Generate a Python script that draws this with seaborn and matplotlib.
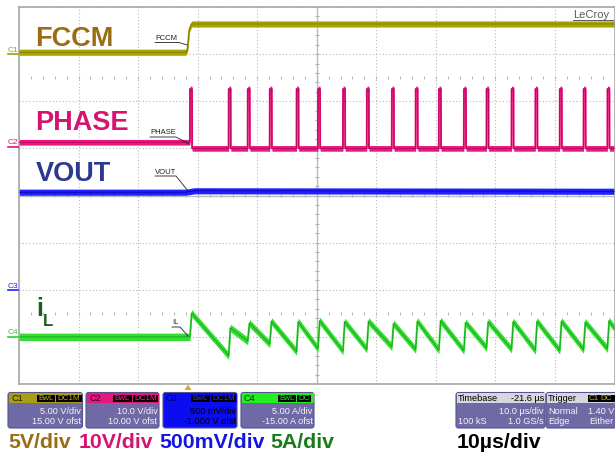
import numpy as np
import pandas as pd
import matplotlib
matplotlib.use("Agg")
import matplotlib.pyplot as plt
import seaborn as sns
from matplotlib.patches import FancyBboxPatch, Rectangle, Polygon

plt.rcParams['font.family'] = ['Liberation Sans', 'DejaVu Sans']

# ---------------- data (time in µs, 10 µs/div, 100 µs window) ----------------
fccm_t = [0.0, 28.0, 28.3, 28.6, 29.0, 100.0]
fccm_v = [0.2, 0.2, 0.5, 2.6, 3.2, 3.2]            # V

phase_pulse_t = [28.7, 35.2, 38.4, 42.1, 46.6, 50.2, 54.4, 58.4, 62.6,
                 66.6, 70.5, 74.7, 78.5, 82.7, 86.7, 90.8, 94.8, 98.8]
phase_pre_v = 1.3      # V, before FCCM
phase_low_v = 0.0      # V
phase_high_v = 12.6    # V
phase_width = 0.35     # µs

vout_t = [0.0, 28.0, 29.5, 100.0]
vout_v = [1.035, 1.035, 1.05, 1.045]               # V

il_pre = 0.0                                       # A
il_trough = [0.0, -2.0, -0.45, -0.75, -1.55, -1.25, -1.5, -1.3, -1.05,
             -1.35, -1.4, -1.45, -1.15, -1.3, -1.45, -1.45, -1.35, -1.25]
il_peak = [2.5, 0.95, 1.45, 1.65, 1.6, 1.7, 1.6, 1.65, 1.4,
           1.65, 1.7, 1.5, 1.6, 1.6, 1.65, 1.65, 1.55, 1.7]
il_end = 0.9
il_rise = 0.3          # µs

# channel: (units/div, offset)  -> screen div = (v + offset)/scale + 4
ch_scale = {'C1': 5.0, 'C2': 10.0, 'C3': 0.5, 'C4': 5.0}
ch_offset = {'C1': 15.0, 'C2': 10.0, 'C3': -1.0, 'C4': -15.0}

# ---------------- build waveforms ----------------
ph_t = [0.0, phase_pulse_t[0] - 0.02]
ph_v = [phase_pre_v, phase_pre_v]
for p in phase_pulse_t:
    ph_t += [p, p + 0.02, p + phase_width, p + phase_width + 0.02]
    ph_v += [ph_v[-1], phase_high_v, phase_high_v, phase_low_v]
ph_t.append(100.0)
ph_v.append(phase_low_v)

il_t = [0.0]
il_v = [il_pre]
for p, tr, pk in zip(phase_pulse_t, il_trough, il_peak):
    il_t += [p, p + il_rise]
    il_v += [tr, pk]
il_t.append(100.0)
il_v.append(il_end)

rows = []
for ch, tt, vv in [('C1', fccm_t, fccm_v), ('C2', ph_t, ph_v),
                   ('C3', vout_t, vout_v), ('C4', il_t, il_v)]:
    for i, (a, b) in enumerate(zip(tt, vv)):
        rows.append({'ch': ch, 'i': i, 't': a,
                     'div': (b + ch_offset[ch]) / ch_scale[ch] + 4})
df = pd.DataFrame(rows)

W, H = 615, 455
fig = plt.figure(figsize=(W / 100, H / 100), dpi=100)
fig.patch.set_facecolor('white')

ax = fig.add_axes([19 / W, 71 / H, 595.5 / W, 377 / H])
ax.set_xlim(0, 100)
ax.set_ylim(0, 8)
ax.set_xticks(np.arange(0, 101, 10))
ax.set_yticks(np.arange(0, 9, 1))
ax.tick_params(length=0, labelbottom=False, labelleft=False)
ax.grid(True, color='#b8b8b8', linestyle=(0, (1, 2)), lw=0.8, zorder=0)
for s in ax.spines.values():
    s.set_color('#a8a8a8')
    s.set_linewidth(1.2)
# center graticule with minor ticks
ax.axvline(50, color='#c0c0c0', lw=1.0, zorder=0.5)
ax.axhline(4, color='#c0c0c0', lw=1.0, zorder=0.5)
yk = np.arange(0, 8.01, 0.2)
ax.hlines(yk, 49.65, 50.35, color='#b0b0b0', lw=0.8, zorder=0.5)
xk = np.arange(0, 100.01, 2)
for yr in (1.5, 4.0, 6.5):
    ax.vlines(xk, yr - 0.03, yr + 0.03, color='#b8b8b8', lw=0.8, zorder=0.5)

styles = {
    'C1': ('#a8a400', '#777500', 0.065),
    'C2': ('#e8187e', '#b0005a', 0.06),
    'C3': ('#2020ff', '#0000a8', 0.065),
    'C4': ('#34dc34', '#119a11', 0.08),
}
for ch in ['C1', 'C2', 'C3', 'C4']:
    d = df[df.ch == ch].sort_values('i')
    light, dark, h = styles[ch]
    ax.fill_between(d['t'], d['div'] - h, d['div'] + h, color=light, lw=0, zorder=2)
    sns.lineplot(data=d, x='t', y='div', ax=ax, sort=False, estimator=None,
                 color=light, lw=1.4, zorder=2.5)
    sns.lineplot(data=d, x='t', y='div', ax=ax, sort=False, estimator=None,
                 color=dark, lw=0.5, zorder=3)
ax.set_xlabel('')
ax.set_ylabel('')

# ---------------- overlay (pixel coordinates) ----------------
ov = fig.add_axes([0, 0, 1, 1], zorder=5)
ov.set_xlim(0, W)
ov.set_ylim(H, 0)
ov.axis('off')
ov.patch.set_alpha(0)

# big trace labels
ov.text(35, 46, 'FCCM', fontsize=19.5, fontweight='bold', color='#9b6d12', va='baseline')
ov.text(35, 130, 'PHASE', fontsize=19.5, fontweight='bold', color='#d4146e', va='baseline')
ov.text(36, 181, 'VOUT', fontsize=19.5, fontweight='bold', color='#2b3990', va='baseline')
ov.text(36, 316, 'i', fontsize=18, fontweight='bold', color='#1a5c1a', va='baseline')
ov.text(43, 326, 'L', fontsize=12, fontweight='bold', color='#1a5c1a', va='baseline')

# small trace annotations with leader lines
def small_label(txt, x, base, ux1, ex, ey):
    ov.text(x, base, txt, fontsize=5.5, color='#202020', va='baseline')
    ov.plot([x, ux1, ex], [base + 2.5, base + 2.5, ey], color='#202020', lw=0.6)

small_label('FCCM', 155, 40, 179, 187, 45)
small_label('PHASE', 150, 134.5, 176, 189, 144)
small_label('VOUT', 155, 173.5, 176, 188, 191)
small_label('IL', 172, 324.5, 180, 188, 336)

# LeCroy
ov.text(573, 17.5, 'LeCroy', fontsize=8, color='#5a5a5a', va='baseline')
ov.plot([573, 613], [19.5, 19.5], color='#5a5a5a', lw=0.7)

# channel ground markers
for name, gy, col in [('C1', 54, '#a0a000'), ('C2', 147, '#e0107a'),
                      ('C3', 290, '#2020ff'), ('C4', 337, '#30d030')]:
    ov.text(7.5, gy - 2.5, name, fontsize=6, color=col, va='baseline', rotation=0)
    ov.plot([8, 18], [gy, gy], color=col, lw=1.2)

# trigger marker
ov.add_patch(Polygon([[184.5, 390], [191.5, 390], [188, 384.5]], closed=True,
                     color='#c8b41e', lw=0))

# ---------------- channel boxes ----------------
body = '#6f6aa6'
edge = '#57538c'

def box(x0, x1, head_col, full=False):
    y0, y1 = 392.5, 428
    ov.add_patch(FancyBboxPatch((x0, y0), x1 - x0, y1 - y0,
                                boxstyle='round,pad=0,rounding_size=2.5',
                                fc=head_col if full else body, ec=edge, lw=0.8))
    ov.add_patch(Rectangle((x0 + 0.5, y0 + 0.5), x1 - x0 - 1, 9.5, fc=head_col, lw=0))

def tag(x0, x1, txt, col):
    ov.add_patch(Rectangle((x0, 394.5), x1 - x0, 7, fc='black', lw=0))
    ov.text((x0 + x1) / 2, 398.3, txt, fontsize=5.8, color=col, ha='center', va='center')

fs = 6.6
chans = [
    ('C1', 8, 82.5, '#a99d14', '#c0b020', '#1e1e00', ['BwL', 'DC1M'], '5.00 V/div', '15.00 V ofst', False),
    ('C2', 86, 159, '#e8167c', '#ff2a90', '#2a0010', ['BwL', 'DC1M'], '10.0 V/div', '10.00 V ofst', False),
    ('C3', 163, 237, '#0c0cf0', '#3030ff', '#00004a', ['BwL', 'DC1M'], '500 mV/div', '-1.000 V ofst', True),
    ('C4', 241, 314, '#22ee22', '#22ee22', '#003000', ['BwL', 'DC'], '5.00 A/div', '-15.00 A ofst', False),
]
for name, x0, x1, hc, tc, nc, tags, r2, r3, full in chans:
    box(x0, x1, hc, full)
    ov.text(x0 + 3, 398.3, name, fontsize=fs, color=nc, va='center')
    if len(tags[1]) > 2:
        tag(x1 - 46, x1 - 27.5, tags[0], tc)
        tag(x1 - 26.5, x1 - 1, tags[1], tc)
    else:
        tag(x1 - 36, x1 - 18, tags[0], tc)
        tag(x1 - 17, x1 - 3, tags[1], tc)
    tcol = 'black' if full else '#f4f4f4'
    ov.text(x1 - 1.5, 411, r2, fontsize=fs, color=tcol, ha='right', va='center')
    ov.text(x1 - 1.5, 421.5, r3, fontsize=fs, color=tcol, ha='right', va='center')

# timebase / trigger
box(456, 545, '#d6d6de')
ov.text(458, 398.3, 'Timebase', fontsize=fs, color='black', va='center')
ov.text(544, 398.3, '-21.6 µs', fontsize=fs, color='black', va='center', ha='right')
ov.text(544, 411, '10.0 µs/div', fontsize=fs, color='#f4f4f4', va='center', ha='right')
ov.text(458, 421.5, '100 kS', fontsize=fs, color='#f4f4f4', va='center')
ov.text(544, 421.5, '1.0 GS/s', fontsize=fs, color='#f4f4f4', va='center', ha='right')

box(546, 640, '#d6d6de')
ov.text(548, 398.3, 'Trigger', fontsize=fs, color='black', va='center')
ov.add_patch(Rectangle((588, 394.5), 30, 7, fc='black', lw=0))
ov.text(589, 398.3, 'C1', fontsize=5.8, color='#c0b020', va='center')
ov.text(600, 398.3, 'DC', fontsize=5.8, color='#c0b020', va='center')
ov.text(548, 411, 'Normal', fontsize=fs, color='#f4f4f4', va='center')
ov.text(614, 411, '1.40 V', fontsize=fs, color='#f4f4f4', va='center', ha='right')
ov.text(548, 421.5, 'Edge', fontsize=fs, color='#f4f4f4', va='center')
ov.text(614, 421.5, 'Either', fontsize=fs, color='#f4f4f4', va='center', ha='right')

# ---------------- scale legend ----------------
fsb = 15.3
ov.text(8, 448, '5V/div', fontsize=fsb, fontweight='bold', color='#9b6d12', va='baseline')
ov.text(79, 448, '10V/div', fontsize=fsb, fontweight='bold', color='#d4146e', va='baseline')
ov.text(159, 448, '500mV/div', fontsize=fsb, fontweight='bold', color='#1515e0', va='baseline')
ov.text(270, 448, '5A/div', fontsize=fsb, fontweight='bold', color='#1a7a1a', va='baseline')
ov.text(457, 448, '10µs/div', fontsize=fsb, fontweight='bold', color='black', va='baseline')

fig.savefig('out.png', dpi=100)
